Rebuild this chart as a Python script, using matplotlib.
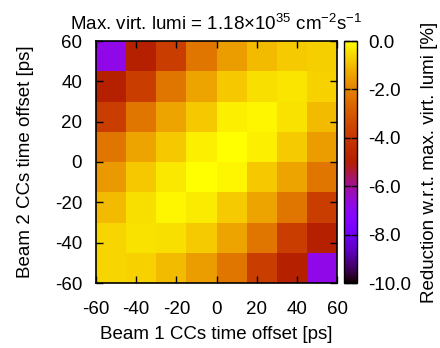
import numpy as np
import matplotlib
matplotlib.use("Agg")
import matplotlib.pyplot as plt

plt.rcParams['font.family'] = ['Liberation Sans', 'DejaVu Sans']
plt.rcParams['mathtext.fontset'] = 'custom'
plt.rcParams['mathtext.rm'] = 'Liberation Sans'
plt.rcParams['mathtext.it'] = 'Liberation Sans:italic'
plt.rcParams['axes.unicode_minus'] = False
plt.rcParams['font.size'] = 13.5

# Data: cell centres [ps] and lumi reduction [%]
beam1_offset = [-52.5, -37.5, -22.5, -7.5, 7.5, 22.5, 37.5, 52.5]
beam2_offset = [52.5, 37.5, 22.5, 7.5, -7.5, -22.5, -37.5, -52.5]  # rows, top to bottom
reduction = [
    [-6.8, -5.0, -3.8, -2.3, -1.5, -1.0, -0.75, -0.7],
    [-5.0, -3.8, -2.3, -1.4, -0.8, -0.45, -0.38, -0.65],
    [-3.8, -2.3, -1.4, -0.8, -0.2, -0.12, -0.4, -1.0],
    [-2.3, -1.4, -0.8, -0.2, 0.0, -0.22, -0.75, -1.5],
    [-1.6, -0.8, -0.35, 0.0, -0.15, -0.8, -1.4, -2.3],
    [-1.0, -0.45, -0.15, -0.3, -0.75, -1.4, -2.3, -3.8],
    [-0.6, -0.4, -0.45, -0.75, -1.4, -2.3, -3.8, -5.0],
    [-0.6, -0.65, -1.0, -1.5, -2.3, -3.8, -5.0, -6.8],
]
xticks = [-60, -40, -20, 0, 20, 40, 60]
yticks = [-60, -40, -20, 0, 20, 40, 60]
cticks = [-10, -8, -6, -4, -2, 0]

fig = plt.figure(figsize=(4.4, 3.48), dpi=100)
ax = fig.add_axes([96/440, 1-283/348, 241/440, 242/348])
cax = fig.add_axes([344/440, 1-283/348, 13/440, 242/348])

mesh = ax.pcolormesh(beam1_offset, beam2_offset, np.array(reduction),
                     shading='nearest', cmap='gnuplot', vmin=-10, vmax=0)
ax.set_xlim(-60, 60)
ax.set_ylim(-60, 60)
ax.set_xticks(xticks)
ax.set_yticks(yticks)
ax.tick_params(direction='in', top=True, right=True, length=5, width=1)
ax.tick_params(axis='x', pad=13)
ax.tick_params(axis='y', pad=10)
ax.set_xlabel('Beam 1 CCs time offset [ps]', labelpad=6)
ax.set_ylabel('Beam 2 CCs time offset [ps]', labelpad=15)
ax.set_title(r'Max. virt. lumi = 1.18$\times$10$^{35}$ cm$^{-2}$s$^{-1}$', fontsize=13.5, pad=8)
for s in ax.spines.values():
    s.set_linewidth(1.2)

cb = fig.colorbar(mesh, cax=cax, ticks=cticks, format='%.1f')
cb.outline.set_linewidth(1)
cax.tick_params(direction='in', length=4, width=1, left=True, right=True, pad=8)
cb.set_label('Reduction w.r.t. max. virt. lumi [%]', labelpad=7)

fig.savefig('out.png', dpi=100)
